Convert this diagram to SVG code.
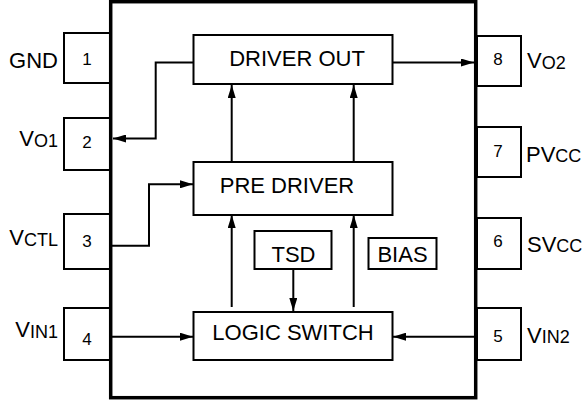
<svg xmlns="http://www.w3.org/2000/svg" width="587" height="400" viewBox="0 0 587 400">
<style>
text{font-family:"Liberation Sans",Arial,sans-serif;fill:#000}
.lbl{font-size:22px}
.sub{font-size:18px}
.num{font-size:17px;text-anchor:middle}
.blk{font-size:22px;text-anchor:middle}
.box{fill:#fff;stroke:#000;stroke-width:2}
.pin{fill:#fff;stroke:#000;stroke-width:2}
.wire{fill:none;stroke:#000;stroke-width:2}
</style>
<defs>
<marker id="ah" viewBox="0 0 13 8" refX="13" refY="4" markerWidth="13" markerHeight="8" markerUnits="userSpaceOnUse" orient="auto">
<path d="M0,0 L13,4 L0,8 Z" fill="#000"/>
</marker>
</defs>
<rect width="587" height="400" fill="#fff"/>

<g id="pin1"><rect class="pin" x="64" y="33" width="46" height="50"/><text class="num" x="87" y="65">1</text><text class="lbl" x="58" y="68" text-anchor="end">GND</text></g>
<g id="pin2"><rect class="pin" x="64" y="118" width="46" height="52"/><text class="num" x="87" y="148">2</text><text class="lbl" x="58" y="146" text-anchor="end">V<tspan class="sub" dy="0.5">O1</tspan></text></g>
<g id="pin3"><rect class="pin" x="64" y="214" width="46" height="55"/><text class="num" x="87" y="247">3</text><text class="lbl" x="58" y="245" text-anchor="end">V<tspan class="sub" dy="0.5">CTL</tspan></text></g>
<g id="pin4"><rect class="pin" x="64" y="308" width="46" height="52"/><text class="num" x="87" y="345">4</text><text class="lbl" x="58" y="337" text-anchor="end">V<tspan class="sub" dy="0.5">IN1</tspan></text></g>
<g id="pin8"><rect class="pin" x="477" y="36" width="44" height="50"/><text class="num" x="498" y="65">8</text><text class="lbl" x="527" y="68">V<tspan class="sub" dy="0.5">O2</tspan></text></g>
<g id="pin7"><rect class="pin" x="477" y="127" width="44" height="50"/><text class="num" x="498" y="157">7</text><text class="lbl" x="526" y="162">PV<tspan class="sub">CC</tspan></text></g>
<g id="pin6"><rect class="pin" x="477" y="218" width="44" height="51"/><text class="num" x="498" y="247">6</text><text class="lbl" x="527" y="252">SV<tspan class="sub">CC</tspan></text></g>
<g id="pin5"><rect class="pin" x="477" y="308" width="44" height="52"/><text class="num" x="498" y="342">5</text><text class="lbl" x="527" y="343">V<tspan class="sub">IN2</tspan></text></g>

<g id="package"><rect x="110.7" y="1.7" width="365" height="396" fill="none" stroke="#000" stroke-width="3.5"/></g>

<g id="driver_out"><rect class="box" x="193.5" y="35" width="199" height="49"/><text class="blk" x="297" y="66">DRIVER OUT</text></g>
<g id="pre_driver"><rect class="box" x="193.5" y="162" width="199" height="53"/><text class="blk" x="287" y="193">PRE DRIVER</text></g>
<g id="logic_switch"><rect class="box" x="193.5" y="312" width="199" height="48"/><text class="blk" x="293" y="340">LOGIC SWITCH</text></g>
<g id="tsd"><rect class="box" x="254.5" y="231" width="77" height="38"/><text class="blk" x="293.5" y="262">TSD</text></g>
<g id="bias"><rect class="box" x="368.5" y="238" width="68" height="31"/><text class="blk" x="402.5" y="262">BIAS</text></g>

<g id="connectors">
<path class="wire" d="M193.5,62.5 H155.7 V138.5 H113" marker-end="url(#ah)"/>
<path class="wire" d="M392.5,62.5 H474" marker-end="url(#ah)"/>
<path class="wire" d="M231.7,162 V85" marker-end="url(#ah)"/>
<path class="wire" d="M353.7,162 V85" marker-end="url(#ah)"/>
<path class="wire" d="M112,245.7 H149 V184.3 H193" marker-end="url(#ah)"/>
<path class="wire" d="M231.7,307 V215" marker-end="url(#ah)"/>
<path class="wire" d="M353.7,307 V215" marker-end="url(#ah)"/>
<path class="wire" d="M293.3,269 V311" marker-end="url(#ah)"/>
<path class="wire" d="M112,336.7 H193" marker-end="url(#ah)"/>
<path class="wire" d="M474,336.7 H393" marker-end="url(#ah)"/>
</g>
</svg>
